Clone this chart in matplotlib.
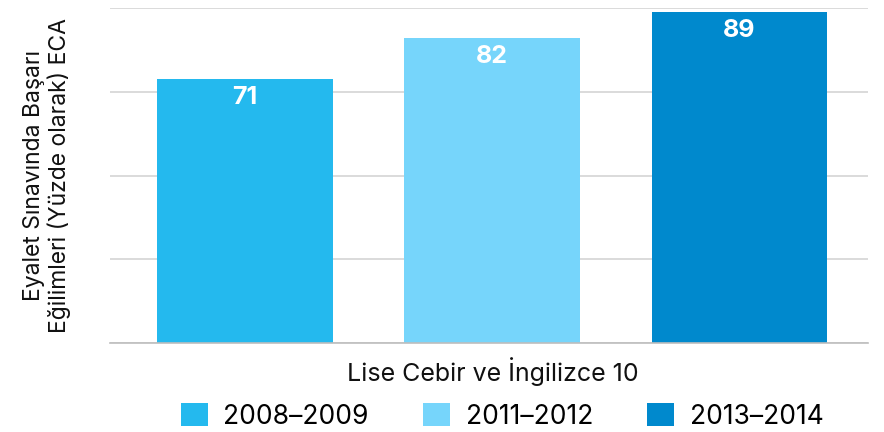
import matplotlib
matplotlib.use("Agg")
import matplotlib.pyplot as plt
from matplotlib.patches import Patch

plt.rcParams['font.family'] = ['Inter', 'DejaVu Sans']

# data
periods = ['2008–2009', '2011–2012', '2013–2014']
values = [71, 82, 89]
colors = ['#24B9EE', '#76D5FB', '#0089CD']
category = 'Lise Cebir ve İngilizce 10'
ylabel = 'Eyalet Sınavında Başarı\nEğilimleri (Yüzde olarak) ECA'

fig = plt.figure(figsize=(8.84, 4.32), dpi=100)
ax = fig.add_axes([0.1244, 0.206, 0.8576, 0.7755])

x = list(range(len(values)))
bars = ax.bar(x, values, width=0.71, color=colors, zorder=2)

for xi, v in zip(x, values):
    ax.text(xi, v - 2.0, str(v), ha='center', va='top', color='white',
            fontsize=18, fontweight='bold', zorder=3)

ax.set_xlim(-0.545, 2.52)
ax.set_ylim(0, 90)
ax.set_yticks([0, 22.5, 45, 67.5, 90])
ax.yaxis.grid(True, color='#d4d4d4', linewidth=1.2, zorder=0)
ax.set_axisbelow(True)
ax.tick_params(left=False, bottom=False, labelleft=False, labelbottom=False)
for s in ['top', 'right', 'left']:
    ax.spines[s].set_visible(False)
ax.spines['bottom'].set_color('#bdbdbd')
ax.spines['bottom'].set_linewidth(1.2)

ax.set_xlabel(category, fontsize=18, color='#111111')
ax.xaxis.set_label_coords(0.505, -0.042)
ax.set_ylabel(ylabel, fontsize=16.5, color='#111111', linespacing=1.1)
ax.yaxis.set_label_coords(-0.052, 0.5)

handles = [Patch(facecolor=c, edgecolor='none') for c in colors]
fig.legend(handles, periods, loc='center', bbox_to_anchor=(0.568, 0.036), ncol=3,
           frameon=False, fontsize=19, handlelength=1.02, handleheight=0.92,
           handletextpad=0.6, columnspacing=2.05, borderpad=0.2)

fig.savefig('out.png', dpi=100)
